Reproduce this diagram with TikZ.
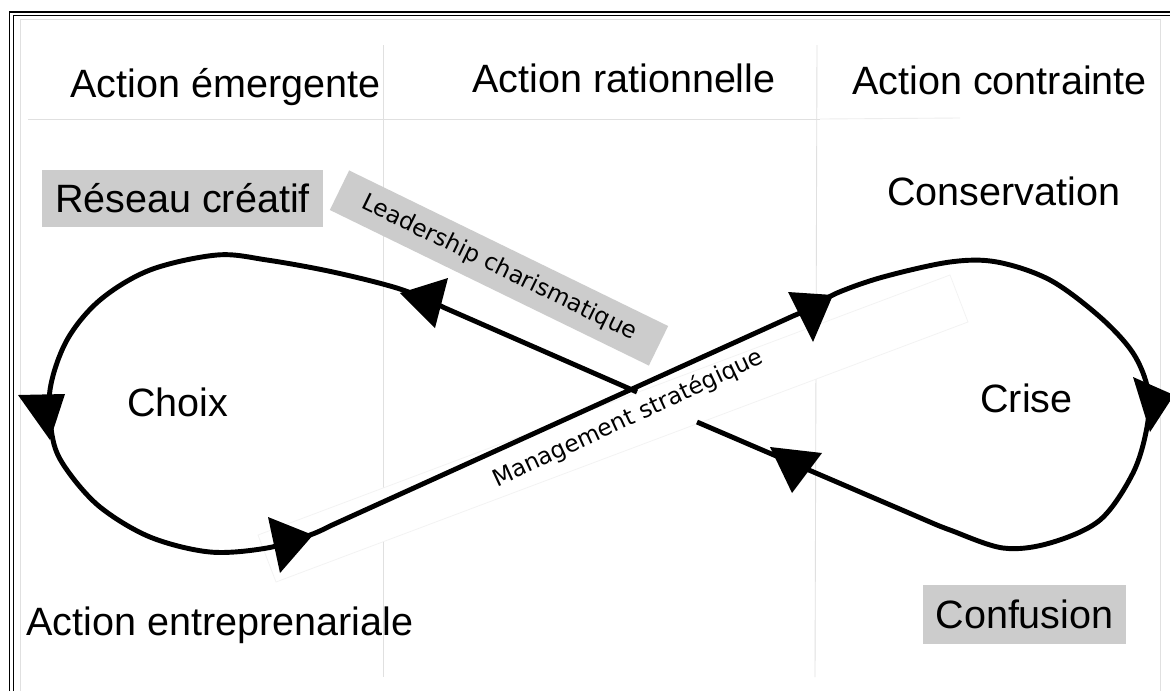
\documentclass[tikz,border=0pt]{standalone}
\usepackage{fontspec}
\setmainfont{Liberation Sans}
\newfontfamily\dejavu{DejaVu Sans}
\tikzset{
  gridline/.style={draw=black!12, line width=0.5pt},
  frameline/.style={draw=black, line width=0.8pt},
  bigtext/.style={font=\fontsize{22.5}{26}\selectfont, inner sep=0pt, anchor=base west},
  greybox/.style={fill=black!20, inner sep=0pt, font=\fontsize{22.5}{26}\selectfont, text height=16.1pt, text depth=0pt},
  slanttext/.style={font=\dejavu\fontsize{13.3}{15}\selectfont, inner sep=0pt},
  curve/.style={draw=black, line width=2.8pt, line join=round},
  arrowhd/.style={fill=black}
}
\begin{document}
\begin{tikzpicture}[x=0.02cm, y=-0.02cm]
\fill[white] (0,0) rectangle (1170,691);
\useasboundingbox (0,0) rectangle (1170,691);
% outer double frame (left and top)
\draw[frameline] (9.3,691) -- (9.3,12) -- (1170,12);
\draw[frameline] (13.3,691) -- (13.3,15.7) -- (1170,15.7);
% inner faint frame
\draw[gridline] (20,691) -- (20,19) -- (1160,19) -- (1160,691);
% grid lines
\draw[gridline] (28,119) -- (820,119);
\draw[draw=black!7, line width=0.5pt] (820,119) -- (960,118);
\draw[gridline] (383,45) -- (383,677);
\draw[gridline] (817,45) -- (815,677);
% column headings
\node[bigtext] (emerg) at (70,97) {Action émergente};
\node[bigtext] (ration) at (472,92) {Action rationnelle};
\node[bigtext] (contr) at (852,94) {Action contrainte};
\node[bigtext] (conserv) at (887,205) {Conservation};
\node[bigtext] (choix) at (127,416) {Choix};
\node[bigtext] (crise) at (980,412) {Crise};
\node[bigtext] (entrep) at (26,635) {Action entreprenariale};
% grey boxes
\node[greybox, minimum width=5.62cm, minimum height=1.14cm] (reseau) at (182.5,198.5) {Réseau créatif};
\node[greybox, minimum width=4.06cm, minimum height=1.18cm] (confus) at (1024.5,614.5) {Confusion};
% leadership label
\node[slanttext, fill=black!20, rotate=-26, minimum width=7.1cm, minimum height=0.88cm] (lead) at (499,268) {Leadership charismatique};
% management label box (very faint)
\path[fill=white, draw=black!5, line width=0.4pt] (258,535) -- (950,275) -- (968,322) -- (276,582) -- cycle;
\node[slanttext, anchor=base, rotate=25] (manag) at (631,425) {Management stratégique};
% the figure-eight curve
\draw[curve] (637,392) -- (445,308) -- plot[smooth, tension=0.55] coordinates {(445,308) (400,289) (333,272) (267,260) (217,255) (150,270) (100,300) (67,340) (50,390) (53,440) (67,470) (100,507) (150,537) (210,552) (267,548) (310,535) (330,526)} -- (793,316) -- plot[smooth, tension=0.55] coordinates {(793,316) (813,307) (837,293) (883,277) (950,262) (997,262) (1050,280) (1100,317) (1133,353) (1148,390) (1147,427) (1133,473) (1100,520) (1050,543) (1003,548) (950,530) (930,522)} -- (697,422);
% arrowheads
\fill[arrowhd] (18,395) -- (65,394) -- (50,440) -- cycle;
\fill[arrowhd] (268,517) -- (280,573) -- (313,535) -- cycle;
\fill[arrowhd] (788,292) -- (813,342) -- (833,295) -- cycle;
\fill[arrowhd] (1133,377) -- (1174,395) -- (1150,432) -- cycle;
\fill[arrowhd] (770,447) -- (822,453) -- (792,493) -- cycle;
\fill[arrowhd] (400,293) -- (448,278) -- (435,328) -- cycle;
\end{tikzpicture}
\end{document}
